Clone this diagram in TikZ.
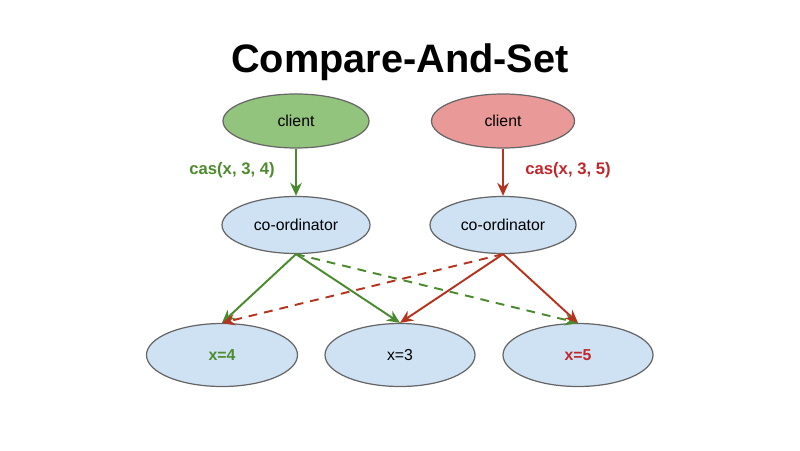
\documentclass[tikz,border=0pt]{standalone}
\usepackage{fontspec}
\setmainfont{Liberation Sans}
\usetikzlibrary{shapes.geometric,arrows.meta}
\definecolor{gfill}{HTML}{93C47D}
\definecolor{rfill}{HTML}{EA9999}
\definecolor{bfill}{HTML}{CFE2F3}
\definecolor{garrow}{HTML}{4A8A2E}
\definecolor{rarrow}{HTML}{B5341F}
\definecolor{gtext}{HTML}{4E8B2E}
\definecolor{rtext}{HTML}{C0272D}
\tikzset{
  box/.style={ellipse, draw=black!60, line width=0.7pt, inner sep=0pt, font=\fontsize{9}{11}\selectfont},
  lbl/.style={font=\fontsize{9.5}{11}\selectfont\bfseries}
}
\begin{document}
\begin{tikzpicture}[>={Stealth[length=2.6mm,width=2.3mm]}, line width=1.1pt]
        \useasboundingbox (0, 0) rectangle (16, 9);

        \node (title) at (8, 7.76) {\fontsize{22.6}{26}\selectfont\bfseries Compare-And-Set};

        \node (c-1) at (5.92, 6.58) [box, fill=gfill, minimum width=2.92cm, minimum height=1.08cm] {client};
        \node (c-2) at (10.06, 6.58) [box, fill=rfill, minimum width=2.86cm, minimum height=1.08cm] {client};

        \node (k-1) at (5.92, 4.5) [box, fill=bfill, minimum width=2.96cm, minimum height=1.14cm] {co-ordinator};
        \node (k-2) at (10.06, 4.5) [box, fill=bfill, minimum width=2.92cm, minimum height=1.14cm] {co-ordinator};

        \node (x-1) at (4.44, 1.9) [box, fill=bfill, minimum width=3.02cm, minimum height=1.26cm] {\textcolor{gtext}{\bfseries x=4}};
        \node (x-2) at (8, 1.9) [box, fill=bfill, minimum width=3.0cm, minimum height=1.26cm] {x=3};
        \node (x-3) at (11.56, 1.9) [box, fill=bfill, minimum width=3.0cm, minimum height=1.26cm] {\textcolor{rtext}{\bfseries x=5}};

        \node (l-1) at (4.64, 5.6) [lbl, text=gtext] {cas(x, 3, 4)};
        \node (l-2) at (11.36, 5.6) [lbl, text=rtext] {cas(x, 3, 5)};

        \draw[->, garrow] (c-1) -- (k-1);
        \draw[->, rarrow] (c-2) -- (k-2);

        \draw[->, garrow] (k-1.south) -- (x-1.north);
        \draw[->, garrow] (k-1.south) -- (x-2.north);
        \draw[dashed, dash pattern=on 5pt off 4pt, ->, garrow] (k-1.south) -- (x-3.north);

        \draw[->, rarrow] (k-2.south) -- (x-3.north);
        \draw[->, rarrow] (k-2.south) -- (x-2.north);
        \draw[dashed, dash pattern=on 5pt off 4pt, ->, rarrow] (k-2.south) -- (x-1.north);

    \end{tikzpicture}
\end{document}
